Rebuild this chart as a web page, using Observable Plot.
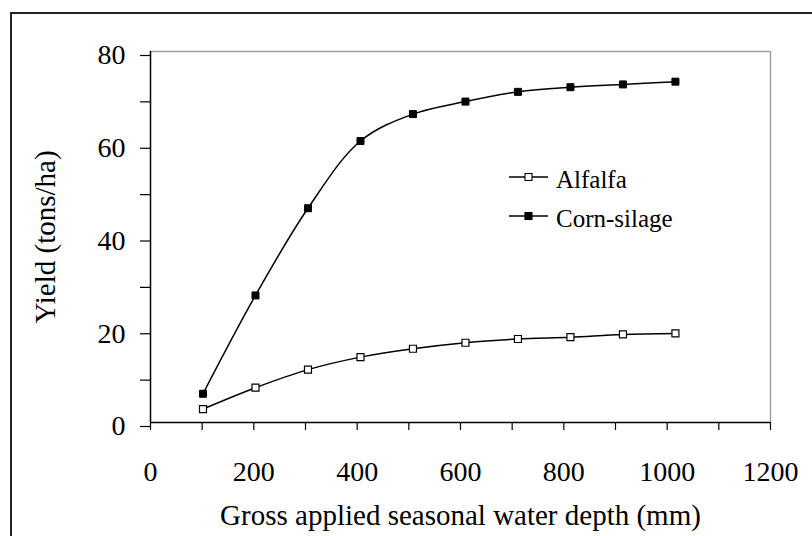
<!DOCTYPE html>
<html>
<head>
<meta charset="utf-8">
<script src="https://cdn.jsdelivr.net/npm/d3@7"></script>
<script src="https://cdn.jsdelivr.net/npm/@observablehq/plot@0.6"></script>
<style>
  html, body { margin: 0; padding: 0; background: #fff; }
  #wrap { position: relative; width: 812px; height: 536px; overflow: hidden; font-family: "Liberation Serif", "Times New Roman", serif; }
  #border { position: absolute; left: 10px; top: 12px; width: 900px; height: 600px; border-left: 2px solid #222; border-top: 2px solid #222; box-sizing: border-box; pointer-events: none; }
  #legend { position: absolute; left: 0; top: 0; }
  #chart svg { display: block; }
  #chart svg text { font-family: "Liberation Serif", "Times New Roman", serif; }
</style>
</head>
<body>
<div id="wrap">
  <div id="chart"></div>
  <div id="border"></div>
</div>
<script>
// Data
const depth = [101.6, 203.2, 304.8, 406.4, 508, 609.6, 711.2, 812.8, 914.4, 1016];
const alfalfa = [2.9, 7.5, 11.4, 14.1, 15.9, 17.2, 18.0, 18.4, 19.0, 19.2];
const cornSilage = [6.2, 27.4, 46.2, 60.7, 66.5, 69.2, 71.3, 72.3, 72.9, 73.5];
const seriesNames = ["Alfalfa", "Corn-silage"];
const xTicks = d3.range(0, 1201, 100);
const xTickLabels = [0, 200, 400, 600, 800, 1000, 1200];
const yTicks = d3.range(0, 81, 10);
const yTickLabels = [0, 20, 40, 60, 80];
const xTitle = "Gross applied seasonal water depth (mm)";
const yTitle = "Yield (tons/ha)";

const serif = "Liberation Serif";
const rows = [
  ...depth.map((x, i) => ({x, y: alfalfa[i], s: seriesNames[0]})),
  ...depth.map((x, i) => ({x, y: cornSilage[i], s: seriesNames[1]}))
];
const alf = rows.filter(d => d.s === seriesNames[0]);
const corn = rows.filter(d => d.s === seriesNames[1]);

const sqR = 7 / Math.sqrt(Math.PI);

const chart = Plot.plot({
  width: 812,
  height: 536,
  marginLeft: 150,
  marginRight: 42,
  marginTop: 51,
  marginBottom: 114,
  style: {fontFamily: serif, fontSize: "28px", color: "#000", background: "transparent"},
  x: {domain: [0, 1200]},
  y: {domain: [0, 80]},
  marks: [
    Plot.ruleY([80], {stroke: "#a0a0a0", strokeWidth: 1.5}),
    Plot.ruleX([1200], {stroke: "#a0a0a0", strokeWidth: 1.5}),
    Plot.axisX({ticks: xTicks, tickSize: 8, tickPadding: 31, label: null, stroke: "#000", strokeOpacity: 1, strokeWidth: 1.2,
      tickFormat: d => xTickLabels.includes(d) ? String(d) : "", fontSize: 28, fontFamily: serif, fill: "#000"}),
    Plot.axisY({ticks: yTicks, tickSize: 10, tickPadding: 15, label: null, stroke: "#000", strokeOpacity: 1, strokeWidth: 1.2,
      tickFormat: d => yTickLabels.includes(d) ? String(d) : "", fontSize: 28, fontFamily: serif, fill: "#000", dy: 4}),
    Plot.ruleY([0], {stroke: "#000", strokeWidth: 1.5}),
    Plot.ruleX([0], {stroke: "#000", strokeWidth: 1.5}),
    Plot.line(alf, {x: "x", y: "y", curve: "catmull-rom", stroke: "#000", strokeWidth: 1.5}),
    Plot.line(corn, {x: "x", y: "y", curve: "catmull-rom", stroke: "#000", strokeWidth: 1.5}),
    Plot.dot(alf, {x: "x", y: "y", symbol: "square", r: sqR, fill: "#fff", stroke: "#000", strokeWidth: 1.2}),
    Plot.dot(corn, {x: "x", y: "y", symbol: "square", r: sqR, fill: "#000", stroke: "#000", strokeWidth: 1}),
    Plot.text([xTitle], {frameAnchor: "bottom", textAnchor: "middle", lineAnchor: "bottom", dy: 102, fontSize: 29, fontFamily: serif, fill: "#000"}),
    Plot.text([yTitle], {frameAnchor: "left", textAnchor: "middle", lineAnchor: "middle", rotate: -90, dx: -105, fontSize: 29, fontFamily: serif, fill: "#000"})
  ]
});
document.getElementById("chart").appendChild(chart);

// Legend (SVG overlay)
const legend = d3.select("#wrap").append("svg")
  .attr("id", "legend").attr("width", 812).attr("height", 536)
  .style("font-family", "Liberation Serif, Times New Roman, serif");
const legendItems = [
  {name: seriesNames[0], fill: "#fff"},
  {name: seriesNames[1], fill: "#000"}
];
legendItems.forEach((it, i) => {
  const cy = 177 + i * 39;
  const g = legend.append("g");
  g.append("line").attr("x1", 509).attr("x2", 548).attr("y1", cy).attr("y2", cy).attr("stroke", "#000").attr("stroke-width", 1.5);
  g.append("rect").attr("x", 528.5 - 3.5).attr("y", cy - 3.5).attr("width", 7).attr("height", 7)
    .attr("fill", it.fill).attr("stroke", "#000").attr("stroke-width", 1.1);
  g.append("text").attr("x", 556).attr("y", cy + 11).attr("font-size", 25).attr("fill", "#000").text(it.name);
});
</script>
</body>
</html>
